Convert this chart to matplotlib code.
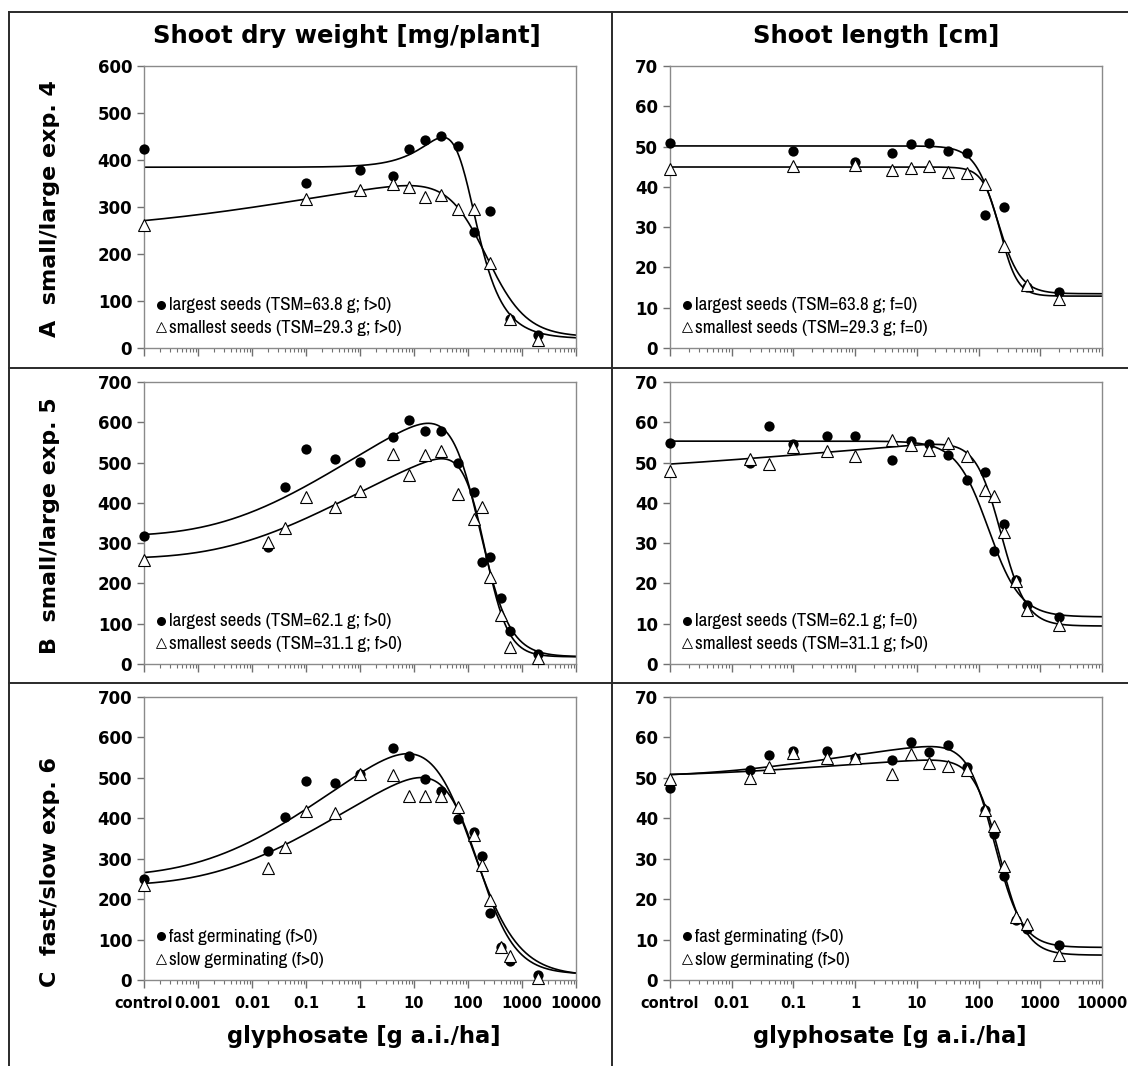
import numpy as np
import matplotlib
matplotlib.use("Agg")
import matplotlib.pyplot as plt
from matplotlib.lines import Line2D
from matplotlib.ticker import FixedLocator, LogLocator, NullFormatter

# glyphosate doses [g a.i./ha]; 0 = untreated control
dose_a = [0, 0.1, 1, 4, 8, 16, 32, 64, 128, 256, 600, 2000]
dose_bc = [0, 0.02, 0.04, 0.1, 0.35, 1, 4, 8, 16, 32, 64, 128, 180, 256, 400, 600, 2000]

# shoot dry weight [mg/plant]
dw_a_large = [423, 352, 378, 366, 423, 442, 451, 430, 246, 292, 62, 28]
dw_a_small = [262, 318, 336, 350, 342, 321, 326, 295, 295, 180, 62, 18]
dw_b_large = [318, 291, 440, 533, 508, 502, 563, 605, 579, 578, 498, 426, 252, 265, 165, 81, 26]
dw_b_small = [258, 303, 338, 415, 390, 429, 521, 469, 519, 529, 422, 360, 390, 217, 122, 43, 14]
dw_c_fast = [250, 320, 403, 491, 488, 510, 575, 554, 497, 468, 398, 367, 306, 165, 82, 48, 12]
dw_c_slow = [236, 278, 328, 418, 414, 509, 506, 456, 456, 456, 429, 359, 284, 197, 82, 59, 4]

# shoot length [cm]
sl_a_large = [50.9, 49.0, 46.2, 48.4, 50.6, 51.0, 49.0, 48.4, 33.0, 34.9, 15.1, 13.8]
sl_a_small = [44.4, 45.2, 45.5, 44.3, 44.8, 45.3, 43.6, 43.4, 40.8, 25.4, 15.7, 12.1]
sl_b_large = [54.9, 50.0, 59.0, 54.5, 56.6, 56.6, 50.7, 55.4, 54.5, 52.0, 45.7, 47.6, 28.1, 34.8, 20.8, 14.6, 11.7]
sl_b_small = [47.9, 51.0, 49.7, 53.9, 52.9, 51.7, 55.5, 54.3, 53.1, 54.9, 51.7, 43.1, 41.7, 32.8, 20.5, 13.3, 9.8]
sl_c_fast = [47.5, 52.0, 55.6, 56.6, 56.6, 55.0, 54.3, 58.9, 56.5, 58.1, 52.8, 42.0, 36.2, 25.8, 14.8, 12.5, 8.6]
sl_c_slow = [49.6, 50.0, 52.7, 56.1, 55.0, 54.9, 50.9, 56.0, 53.7, 53.0, 51.9, 42.0, 38.1, 28.2, 15.6, 13.8, 6.3]

# fitted dose-response curves: model, c, d, f, e, b, a
fit_dw_a_large = ("bc", 19.32, 384.70, 3.635, 89.3, 2.037, None)
fit_dw_a_small = ("crs", 23.39, 250.91, 230.30, 207.6, 1.172, 0.0968)
fit_dw_b_large = ("crs", 17.97, 317.17, 550.59, 155.7, 1.575, 0.1720)
fit_dw_b_small = ("crs", 17.75, 261.80, 447.08, 201.4, 2.024, 0.1759)
fit_dw_c_fast = ("crs", 9.86, 256.22, 704.97, 102.5, 1.026, 0.1589)
fit_dw_c_slow = ("crs", 14.20, 233.50, 557.25, 140.8, 1.273, 0.1674)
fit_sl_a_large = ("ll4", 13.47, 50.16, 0, 200.7, 2.323, None)
fit_sl_a_small = ("ll4", 12.88, 44.93, 0, 225.1, 3.099, None)
fit_sl_b_large = ("ll4", 11.70, 55.32, 0, 144.7, 1.676, None)
fit_sl_b_small = ("crs", 9.43, 47.51, 15.31, 227.6, 2.106, 0.0986)
fit_sl_c_fast = ("crs", 8.06, 50.40, 14.18, 179.2, 1.964, 0.1834)
fit_sl_c_slow = ("crs", 6.15, 50.49, 7.78, 218.0, 2.046, 0.1645)

legend_a_dw = ["largest seeds (TSM=63.8 g; f>0)", "smallest seeds (TSM=29.3 g; f>0)"]
legend_a_sl = ["largest seeds (TSM=63.8 g; f=0)", "smallest seeds (TSM=29.3 g; f=0)"]
legend_b_dw = ["largest seeds (TSM=62.1 g; f>0)", "smallest seeds (TSM=31.1 g; f>0)"]
legend_b_sl = ["largest seeds (TSM=62.1 g; f=0)", "smallest seeds (TSM=31.1 g; f>0)"]
legend_c = ["fast germinating (f>0)", "slow germinating (f>0)"]
row_labels = ["A  small/large exp. 4", "B  small/large exp. 5", "C  fast/slow exp. 6"]


def curve(fit, x):
    kind, c, d, f, e, b, a = fit
    if kind == "bc":
        h = x
    elif kind == "crs":
        h = np.exp(-x ** (-a))
    else:
        h = 0 * x
    return c + (d - c + f * h) / (1 + (x / e) ** b)


W, H = 1128, 1066
fig = plt.figure(figsize=(W / 100, H / 100), dpi=100)

BOLD = dict(family="DejaVu Sans", fontweight="bold", color="black")
LEG = ["Archivo Narrow", "DejaVu Sans"]


def px(x, y):
    return x / W, 1 - y / H


def panel(rect, lo, ymax, dose, yl, ys, fl, fs, legend, xlabels):
    ax = fig.add_axes(rect)
    ax.set_xscale("log")
    ax.set_xlim(lo, 1e4)
    ax.set_ylim(0, ymax)
    step = 100 if ymax > 100 else 10
    ax.set_yticks(np.arange(0, ymax + 1, step))
    xx = np.logspace(np.log10(lo), 4, 500)
    ax.plot(xx, curve(fl, xx), color="black", lw=1.2, zorder=2)
    ax.plot(xx, curve(fs, xx), color="black", lw=1.2, zorder=2)
    xd = [lo if d == 0 else d for d in dose]
    ax.plot(xd, yl, "o", color="black", ms=7.4, mew=0, zorder=3, clip_on=False)
    ax.plot(xd, ys, "^", mfc="white", mec="black", ms=8, mew=0.8, zorder=4, clip_on=False)
    # legend
    for k, (txt, yy) in enumerate(zip(legend, (0.152, 0.071))):
        if k == 0:
            ax.plot([0.039], [yy + 0.002], "o", color="black", ms=6.5, mew=0,
                    transform=ax.transAxes)
        else:
            ax.plot([0.039], [yy + 0.004], "^", mfc="white", mec="black", ms=6.5,
                    mew=0.6, transform=ax.transAxes)
        ax.text(0.057, yy, txt, transform=ax.transAxes, va="center", ha="left",
                fontsize=13.6, family=LEG)
    for sp in ax.spines.values():
        sp.set_color("#8a8a8a")
        sp.set_linewidth(1.0)
    ticks = [lo * 10 ** i for i in range(int(round(4 - np.log10(lo))) + 1)]
    ax.xaxis.set_major_locator(FixedLocator(ticks))
    ax.xaxis.set_minor_locator(LogLocator(base=10, subs=np.arange(2, 10), numticks=100))
    ax.xaxis.set_minor_formatter(NullFormatter())
    ax.tick_params(axis="both", which="major", direction="out", length=5, width=1,
                   color="#707070")
    ax.tick_params(axis="x", which="minor", direction="out", length=3, width=0.8,
                   color="#707070")
    ax.tick_params(axis="x", which="major", length=6)
    for t in ax.get_yticklabels():
        t.set_fontsize(12)
        t.set_fontweight("bold")
        t.set_family("DejaVu Sans")
    if xlabels:
        labels = ["control"] + [("%g" % v) if v < 1 else "%d" % v for v in ticks[1:]]
        ax.set_xticklabels(labels, fontsize=10.5, fontweight="bold", family="DejaVu Sans")
        ax.tick_params(axis="x", which="major", pad=5.5)
    else:
        ax.set_xticklabels([])
    return ax


rows = [
    (66, 348, 600, 70, dose_a, (dw_a_large, dw_a_small, fit_dw_a_large, fit_dw_a_small, legend_a_dw),
     (sl_a_large, sl_a_small, fit_sl_a_large, fit_sl_a_small, legend_a_sl)),
    (382, 664, 700, 70, dose_bc, (dw_b_large, dw_b_small, fit_dw_b_large, fit_dw_b_small, legend_b_dw),
     (sl_b_large, sl_b_small, fit_sl_b_large, fit_sl_b_small, legend_b_sl)),
    (697, 980, 700, 70, dose_bc, (dw_c_fast, dw_c_slow, fit_dw_c_fast, fit_dw_c_slow, legend_c),
     (sl_c_fast, sl_c_slow, fit_sl_c_fast, fit_sl_c_slow, legend_c)),
]

for i, (top, bot, ymax_l, ymax_r, dose, left, right) in enumerate(rows):
    last = i == 2
    rl = [144 / W, 1 - bot / H, 432 / W, (bot - top) / H]
    rr = [670 / W, 1 - bot / H, 432 / W, (bot - top) / H]
    panel(rl, 1e-4, ymax_l, dose, *left, last)
    panel(rr, 1e-3, ymax_r, dose, *right, last)

# column titles, axis labels and row labels
fig.text(*px(347, 36), "Shoot dry weight [mg/plant]", ha="center", va="center",
         fontsize=17.5, **BOLD)
fig.text(*px(876, 36), "Shoot length [cm]", ha="center", va="center",
         fontsize=17.5, **BOLD)
fig.text(*px(364, 1036), "glyphosate [g a.i./ha]", ha="center", va="center",
         fontsize=16.3, **BOLD)
fig.text(*px(890, 1036), "glyphosate [g a.i./ha]", ha="center", va="center",
         fontsize=16.3, **BOLD)
for lab, yc in zip(row_labels, (209, 526, 872)):
    fig.text(*px(50, yc), lab, rotation=90, ha="center", va="center",
             fontsize=16, **BOLD)

# table frame
frame = [((9, 12), (W, 12)), ((9, 12), (9, H)), ((9, 368), (W, 368)),
         ((9, 683), (W, 683)), ((612, 12), (612, H))]
for (x0, y0), (x1, y1) in frame:
    fig.add_artist(Line2D([x0 / W, x1 / W], [1 - y0 / H, 1 - y1 / H],
                          transform=fig.transFigure, color="#2a2a2a", lw=1.4))

fig.savefig("out.png", dpi=100)
